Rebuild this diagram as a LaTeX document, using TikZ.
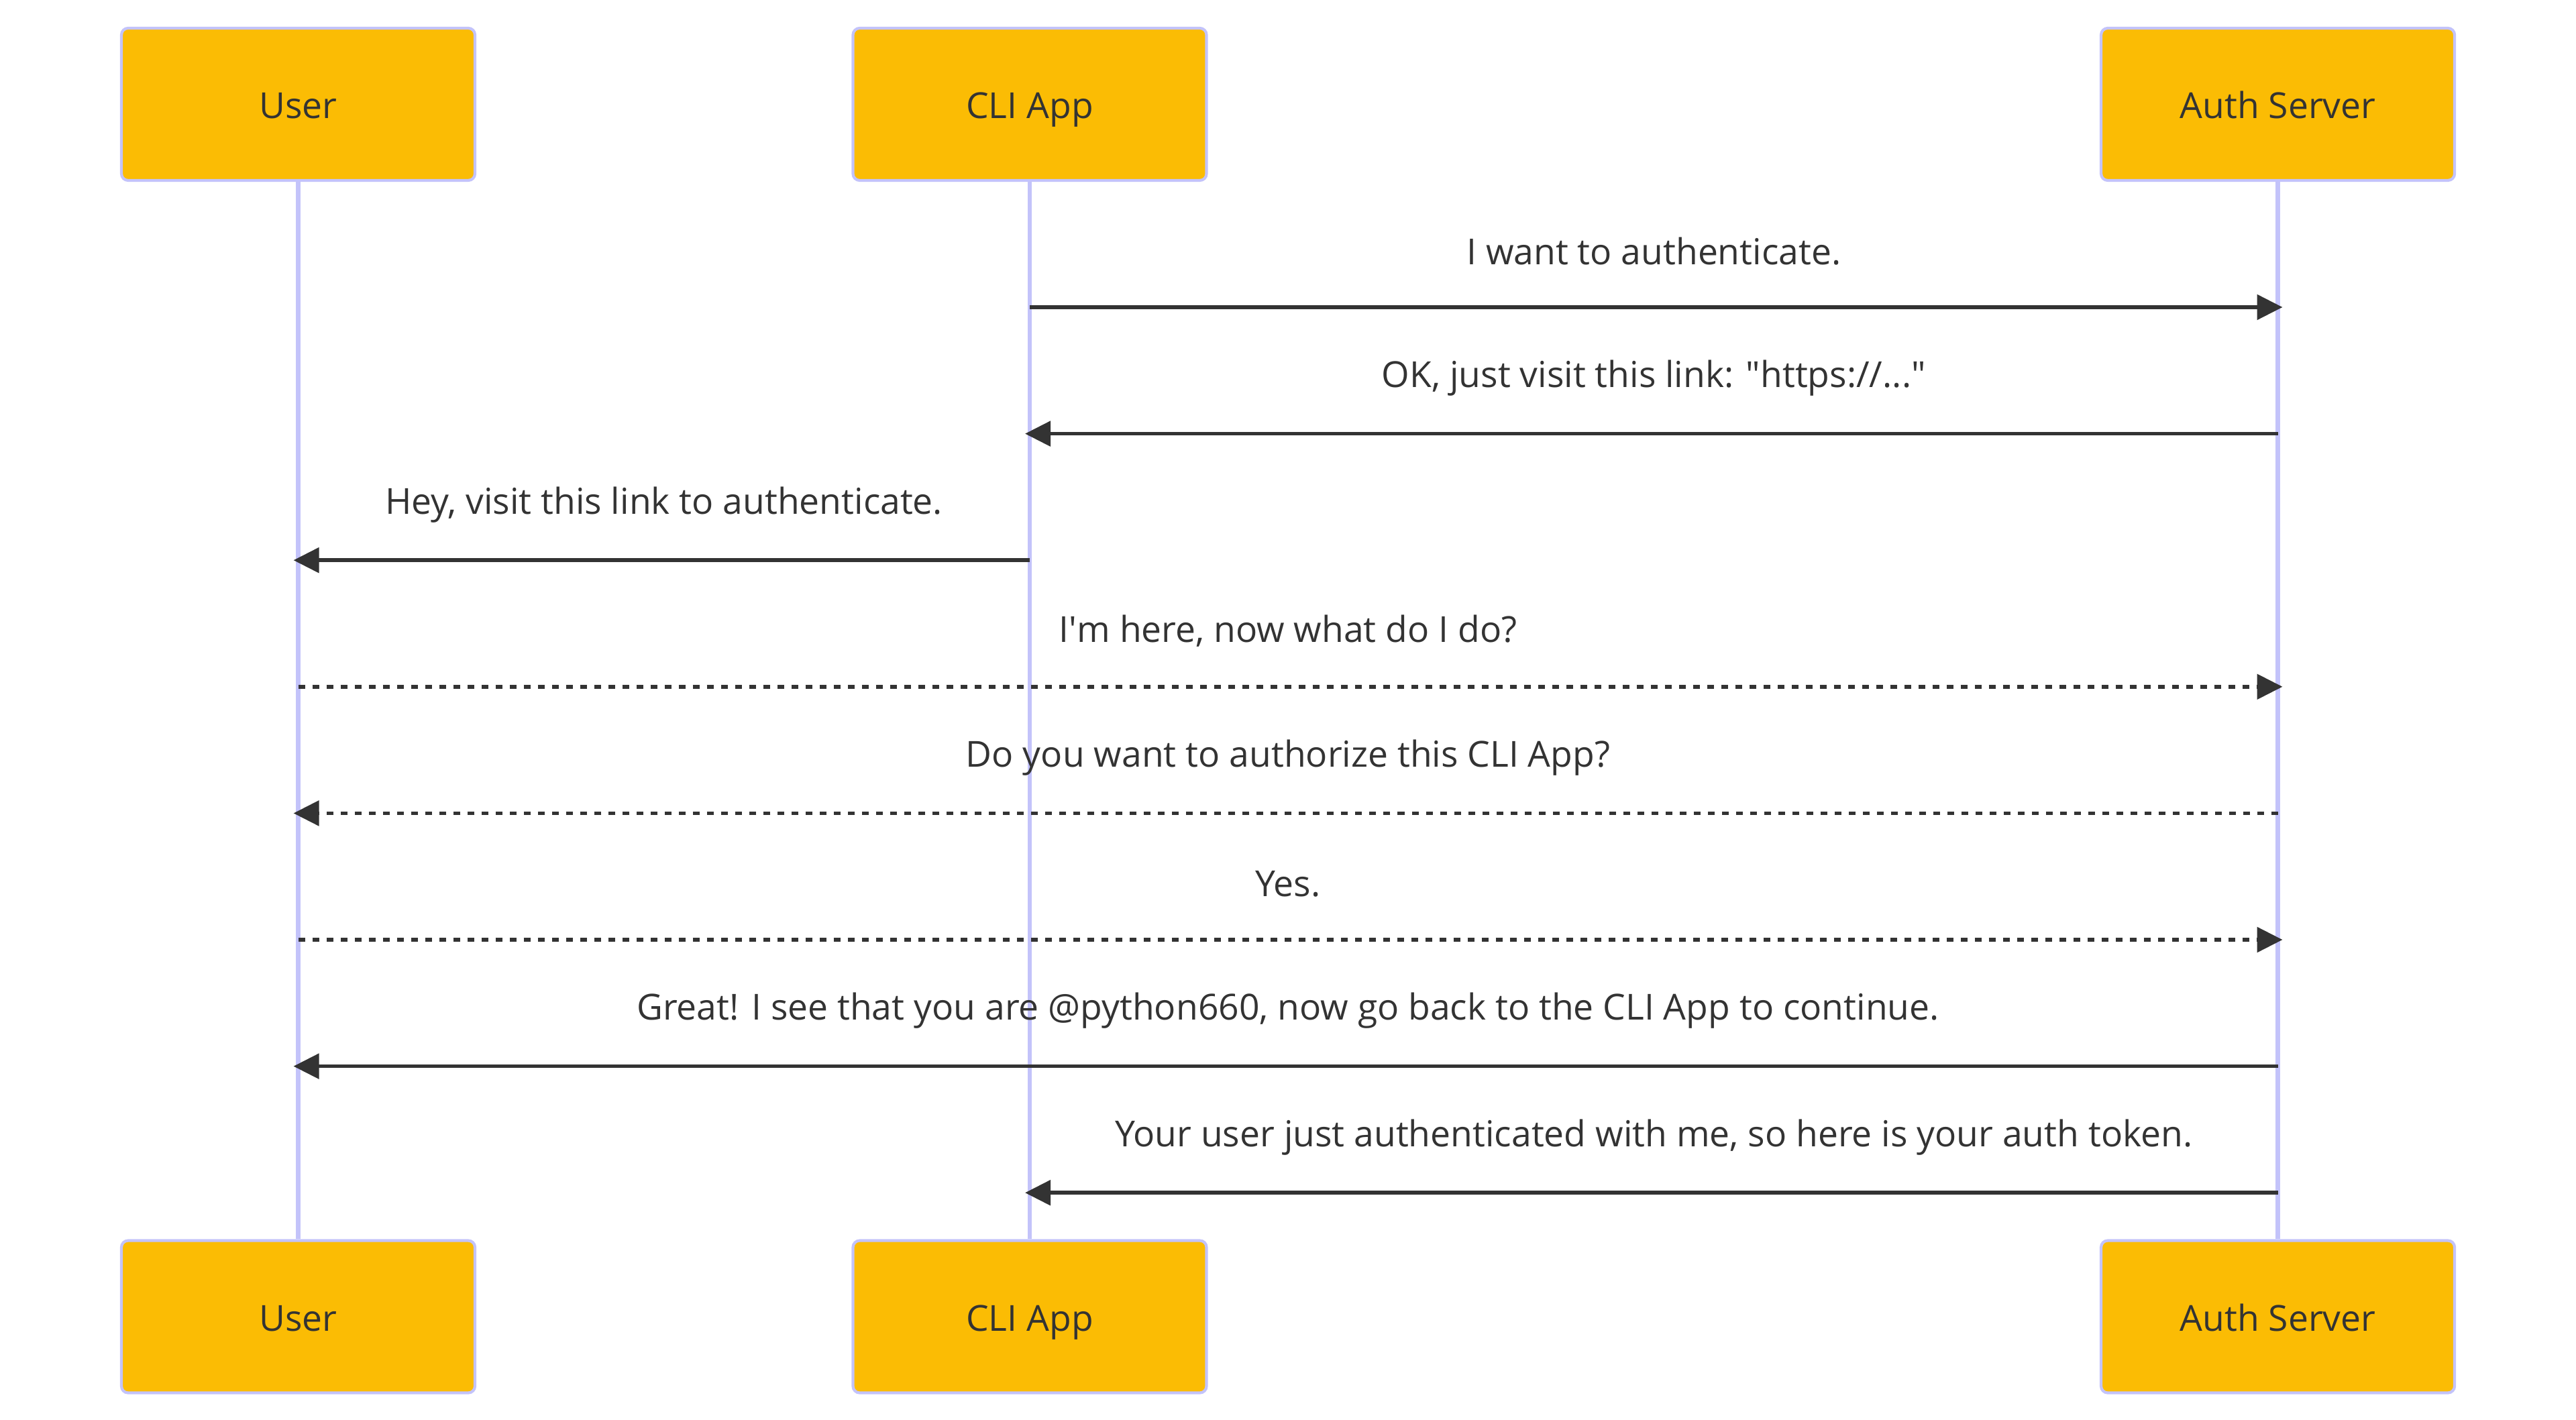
\documentclass[tikz,border=0pt]{standalone}
\usepackage{xcolor}
\usepackage{fontspec}
\setmainfont{Open Sans}
\usetikzlibrary{arrows.meta, positioning}
\definecolor{actorfill}{HTML}{FBBC04}
\definecolor{actorline}{HTML}{C3C3FA}
\definecolor{msgtext}{HTML}{333333}
\tikzstyle{actor} = [rectangle, rounded corners=0.1cm, minimum width=5.27cm, minimum height=2.27cm,align=center, text height=1.2em, text depth=0pt, draw=actorline, line width=1.2pt, fill=actorfill, text=msgtext]
\tikzstyle{lifeline} = [draw=actorline, line width=1.9pt]
\tikzstyle{arrow} = [draw=msgtext, line width=1.6pt, -{Triangle[length=0.38cm, width=0.37cm]}, shorten >=-0.07cm]
\tikzstyle{reply} = [arrow, dash pattern=on 0.1cm off 0.11cm]
\tikzstyle{msg} = [text=msgtext, yshift=0.83cm]

\begin{document}
\begin{tikzpicture}[font=\fontsize{15.2pt}{18pt}\selectfont, node distance=10.905cm]
\useasboundingbox (0,0) rectangle (38.4,-21.17);
\node (user) [actor] at (4.445,-1.555) {User};
\node (cli) [actor, right of=user] {CLI App};
\node (auth) [actor, right of=cli, xshift=7.7cm] {Auth Server};

\node (user_b) [actor, below of=user, yshift=-7.17cm] {User};
\node (cli_b) [actor, below of=cli, yshift=-7.17cm] {CLI App};
\node (auth_b) [actor, below of=auth, yshift=-7.17cm] {Auth Server};

\draw[lifeline] (user) -- (user_b);
\draw[lifeline] (cli) -- (cli_b);
\draw[lifeline] (auth) -- (auth_b);

\coordinate (r1) at (0,-4.58);
\coordinate (r2) at (0,-6.466);
\coordinate (r3) at (0,-8.352);
\coordinate (r4) at (0,-10.238);
\coordinate (r5) at (0,-12.124);
\coordinate (r6) at (0,-14.01);
\coordinate (r7) at (0,-15.896);
\coordinate (r8) at (0,-17.782);

\draw[arrow] (cli |- r1) -- (auth |- r1) node[msg, midway] {I want to authenticate.};
\draw[arrow] (auth |- r2) -- (cli |- r2) node[msg, midway] {OK, just visit this link: \textquotedbl https://...\textquotedbl};
\draw[arrow] (cli |- r3) -- (user |- r3) node[msg, midway] {Hey, visit this link to authenticate.};
\draw[reply] (user |- r4) -- (auth |- r4) node[msg, midway] {I\textquotesingle m here, now what do I do?};
\draw[reply] (auth |- r5) -- (user |- r5) node[msg, midway] {Do you want to authorize this CLI App?};
\draw[reply] (user |- r6) -- (auth |- r6) node[msg, midway] {Yes.};
\draw[arrow] (auth |- r7) -- (user |- r7) node[msg, midway] {Great! I see that you are @python660, now go back to the CLI App to continue.};
\draw[arrow] (auth |- r8) -- (cli |- r8) node[msg, midway] {Your user just authenticated with me, so here is your auth token.};
\end{tikzpicture}
\end{document}
